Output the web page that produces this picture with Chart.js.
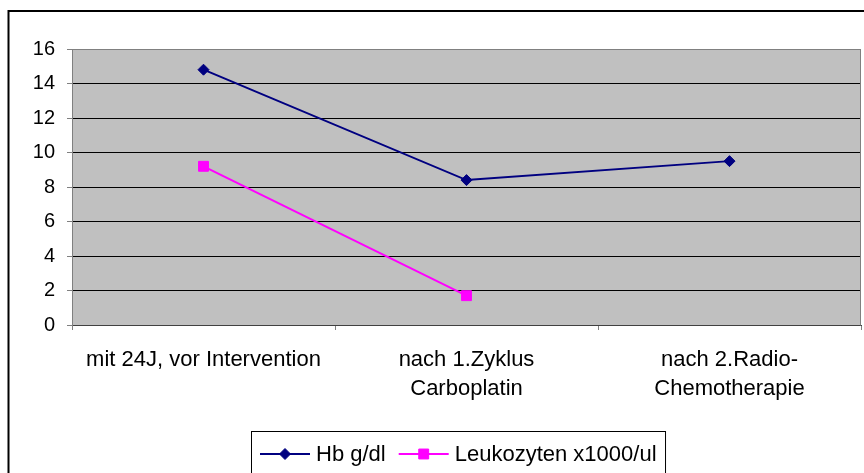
<!DOCTYPE html>
<html>
<head>
<meta charset="utf-8">
<script src="https://cdn.jsdelivr.net/npm/chart.js@4/dist/chart.umd.min.js"></script>
<style>
  html, body { margin: 0; padding: 0; background: #fff; }
  canvas { display: block; }
</style>
</head>
<body>
<canvas id="chart" width="864" height="473"></canvas>
<script>
// Zeitpunkte (Kategorien) und Messwerte
const categories = [
    'mit 24J, vor Intervention',
    ['nach 1.Zyklus', 'Carboplatin'],
    ['nach 2.Radio-', 'Chemotherapie']
];
const hbValues = [14.8, 8.4, 9.5];
const leukoValues = [9.2, 1.7, null];
const yTicks = [0, 2, 4, 6, 8, 10, 12, 14, 16];

const FONT = 'Liberation Sans, Arial, sans-serif';
const NAVY = '#000080';
const MAGENTA = '#FF00FF';
const PLOT_BG = '#C0C0C0';
const FRAME = '#808080';

// Hintergrund und Rahmen des Diagrammbereichs, äußerer Rahmen
const framePlugin = {
    id: 'frame',
    beforeDraw(chart) {
        const { ctx, chartArea: a } = chart;
        ctx.save();
        ctx.fillStyle = PLOT_BG;
        ctx.fillRect(a.left, a.top, a.right - a.left, a.bottom - a.top);
        ctx.restore();
    },
    beforeDatasetsDraw(chart) {
        const { ctx, chartArea: a } = chart;
        ctx.save();
        ctx.strokeStyle = FRAME;
        ctx.lineWidth = 1;
        ctx.beginPath();
        ctx.moveTo(Math.round(a.left) + 0.5, Math.round(a.top) + 0.5);
        ctx.lineTo(Math.round(a.right) - 0.5, Math.round(a.top) + 0.5);
        ctx.lineTo(Math.round(a.right) - 0.5, Math.round(a.bottom) + 0.5);
        ctx.stroke();
        ctx.restore();
    },
    afterDraw(chart) {
        const ctx = chart.ctx;
        ctx.save();
        ctx.strokeStyle = '#000';
        ctx.lineWidth = 2;
        ctx.strokeRect(8.5, 11, chart.width + 20, chart.height + 20);
        ctx.restore();
    }
};

// Legende im Excel-Stil: Linie mit Markierung, umrahmt
const boxLegendPlugin = {
    id: 'boxLegend',
    afterDraw(chart) {
        const ctx = chart.ctx;
        const y = 454;
        const sample = 50;
        const boxLeft = 251.5;
        let x = 260;
        ctx.save();
        ctx.font = '22px ' + FONT;
        ctx.textBaseline = 'middle';
        chart.data.datasets.forEach((ds) => {
            const cx = x + sample / 2;
            const r = ds.pointRadius;
            ctx.strokeStyle = ds.borderColor;
            ctx.lineWidth = 2;
            ctx.beginPath();
            ctx.moveTo(x, y);
            ctx.lineTo(x + sample, y);
            ctx.stroke();
            ctx.fillStyle = ds.pointBackgroundColor;
            ctx.strokeStyle = ds.pointBorderColor;
            ctx.lineWidth = 1;
            ctx.beginPath();
            if (ds.pointStyle === 'rectRot') {
                ctx.moveTo(cx - r, y);
                ctx.lineTo(cx, y - r);
                ctx.lineTo(cx + r, y);
                ctx.lineTo(cx, y + r);
            } else {
                const s = r * Math.SQRT1_2;
                ctx.rect(cx - s, y - s, 2 * s, 2 * s);
            }
            ctx.closePath();
            ctx.fill();
            ctx.stroke();
            ctx.fillStyle = '#000';
            ctx.fillText(ds.label, x + sample + 6, y + 1);
            x += sample + 6 + ctx.measureText(ds.label).width + 13;
        });
        ctx.strokeStyle = '#000';
        ctx.lineWidth = 1;
        ctx.strokeRect(boxLeft, 431.5, x - boxLeft - 4, 80);
        ctx.restore();
    }
};

new Chart(document.getElementById('chart'), {
    type: 'line',
    data: {
        labels: categories,
        datasets: [
            {
                label: 'Hb g/dl',
                data: hbValues,
                borderColor: NAVY,
                backgroundColor: NAVY,
                borderWidth: 2,
                pointStyle: 'rectRot',
                pointRadius: 5.5,
                pointBackgroundColor: NAVY,
                pointBorderColor: NAVY,
                pointBorderWidth: 1,
                tension: 0
            },
            {
                label: 'Leukozyten x1000/ul',
                data: leukoValues,
                borderColor: MAGENTA,
                backgroundColor: MAGENTA,
                borderWidth: 2,
                pointStyle: 'rect',
                pointRadius: 7,
                pointBackgroundColor: MAGENTA,
                pointBorderColor: MAGENTA,
                pointBorderWidth: 1,
                tension: 0,
                spanGaps: false
            }
        ]
    },
    options: {
        responsive: false,
        animation: false,
        layout: {
            autoPadding: false,
            padding: { left: 0, top: 49, right: 3, bottom: 53 }
        },
        plugins: {
            legend: { display: false },
            tooltip: { enabled: false }
        },
        scales: {
            x: {
                offset: true,
                grid: {
                    offset: true,
                    drawOnChartArea: false,
                    drawTicks: true,
                    tickLength: 5,
                    color: FRAME
                },
                border: { color: '#404040', width: 1 },
                ticks: {
                    color: '#000',
                    padding: 15,
                    maxRotation: 0,
                    autoSkip: false,
                    font: { family: FONT, size: 22, lineHeight: 1.32 }
                },
                afterFit(scale) { scale.height = 95; }
            },
            y: {
                min: 0,
                max: 16,
                afterBuildTicks(scale) {
                    scale.ticks = yTicks.map(v => ({ value: v }));
                },
                grid: {
                    color(c) {
                        if (c.tick && c.tick.value === 16) return FRAME;
                        return '#000';
                    },
                    tickColor: FRAME,
                    tickLength: 5,
                    lineWidth: 1
                },
                border: { color: FRAME, width: 1 },
                ticks: {
                    color: '#000',
                    padding: 12,
                    font: { family: FONT, size: 20 }
                },
                afterFit(scale) { scale.width = 72; }
            }
        }
    },
    plugins: [framePlugin, boxLegendPlugin]
});
</script>
</body>
</html>
